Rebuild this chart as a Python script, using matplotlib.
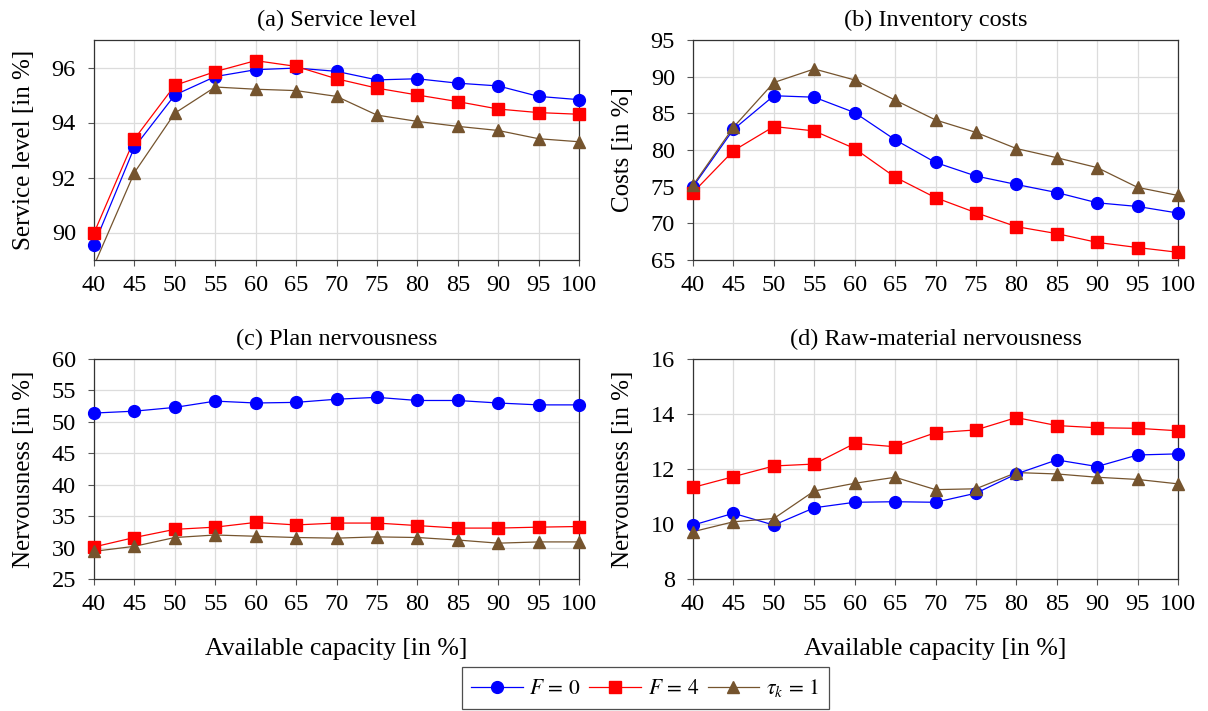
import numpy as np
import matplotlib
matplotlib.use("Agg")
import matplotlib.pyplot as plt

plt.rcParams["font.family"] = ["Liberation Serif", "DejaVu Serif"]
plt.rcParams["mathtext.fontset"] = "stix"
plt.rcParams["font.size"] = 18

# Verfügbare Kapazität (x-Achse)
capacity = [40, 45, 50, 55, 60, 65, 70, 75, 80, 85, 90, 95, 100]

# (a) Servicegrad
service_f0 = [89.55, 93.1, 95.0, 95.67, 95.92, 95.98, 95.86, 95.55, 95.59, 95.43, 95.33, 94.95, 94.83]
service_f4 = [89.98, 93.4, 95.35, 95.85, 96.25, 96.04, 95.59, 95.25, 95.0, 94.76, 94.49, 94.36, 94.3]
service_tau = [88.8, 92.18, 94.34, 95.29, 95.21, 95.16, 94.95, 94.27, 94.04, 93.86, 93.71, 93.41, 93.3]

# (b) Lagerkosten
costs_f0 = [75.0, 82.8, 87.4, 87.2, 85.1, 81.4, 78.3, 76.45, 75.3, 74.2, 72.8, 72.3, 71.4]
costs_f4 = [74.2, 79.9, 83.2, 82.6, 80.2, 76.3, 73.5, 71.45, 69.55, 68.6, 67.4, 66.7, 66.05]
costs_tau = [75.2, 83.1, 89.2, 91.05, 89.55, 86.8, 84.1, 82.4, 80.2, 78.95, 77.6, 74.9, 73.8]

# (c) Plannervosität
plan_f0 = [51.4, 51.7, 52.3, 53.3, 53.0, 53.1, 53.6, 53.9, 53.4, 53.4, 53.0, 52.7, 52.7]
plan_f4 = [30.1, 31.6, 32.9, 33.25, 34.0, 33.6, 33.9, 33.9, 33.5, 33.1, 33.1, 33.25, 33.35]
plan_tau = [29.4, 30.2, 31.6, 32.0, 31.8, 31.6, 31.5, 31.7, 31.6, 31.2, 30.7, 30.9, 30.9]

# (d) Rohstoffnervosität
raw_f0 = [9.96, 10.39, 9.96, 10.59, 10.79, 10.81, 10.79, 11.12, 11.82, 12.33, 12.09, 12.51, 12.55]
raw_f4 = [11.33, 11.72, 12.11, 12.18, 12.93, 12.81, 13.32, 13.42, 13.87, 13.58, 13.5, 13.48, 13.39]
raw_tau = [9.72, 10.08, 10.2, 11.2, 11.48, 11.7, 11.25, 11.28, 11.87, 11.82, 11.7, 11.62, 11.46]

panels = [
    ("(a) Service level", "Service level [in %]", (service_f0, service_f4, service_tau), (89, 97), [90, 92, 94, 96]),
    ("(b) Inventory costs", "Costs [in %]", (costs_f0, costs_f4, costs_tau), (65, 95), list(range(65, 96, 5))),
    ("(c) Plan nervousness", "Nervousness [in %]", (plan_f0, plan_f4, plan_tau), (25, 60), list(range(25, 61, 5))),
    ("(d) Raw-material nervousness", "Nervousness [in %]", (raw_f0, raw_f4, raw_tau), (8, 16), [8, 10, 12, 14, 16]),
]

labels = ["$F\\,=\\,0$", "$F\\,=\\,4$", "$\\tau_k\\,=\\,1$"]
colors = ["#0000ff", "#ff0000", "#75542e"]
markers = ["o", "s", "^"]
msizes = [8.5, 8.3, 8]

W, H = 1208, 711
fig = plt.figure(figsize=(W / 100, H / 100), dpi=100)
boxes = [(94, 40), (693, 40), (94, 359), (693, 359)]

handles = []
for i, (title, ylab, series, ylim, yticks) in enumerate(panels):
    x0, y0 = boxes[i]
    ax = fig.add_axes([x0 / W, 1 - (y0 + 220) / H, 485 / W, 220 / H])
    for s, c, m, ms, lab in zip(series, colors, markers, msizes, labels):
        y = np.array(s, dtype=float)
        # Linie wird an der Achse abgeschnitten, Marker nicht
        ax.plot(capacity, y, color=c, linewidth=0.9, zorder=3)
        ym = np.where((y >= ylim[0]) & (y <= ylim[1]), y, np.nan)
        ax.plot(capacity, ym, color=c, linestyle="none", marker=m, markersize=ms,
                clip_on=False, zorder=4)
        if i == 0:
            h, = ax.plot([], [], color=c, marker=m, markersize=ms, linewidth=0.9)
            handles.append(h)
    ax.set_xlim(40, 100)
    ax.set_ylim(*ylim)
    ax.set_xticks(capacity)
    ax.set_yticks(yticks)
    ax.grid(True, color="#dcdcdc", linewidth=0.9)
    ax.set_axisbelow(True)
    ax.tick_params(direction="out", length=4, color="#555555", labelsize=17.5)
    ax.tick_params(axis="x", pad=7)
    ax.tick_params(axis="y", pad=9)
    for sp in ax.spines.values():
        sp.set_color("#333333")
        sp.set_linewidth(0.9)
    ax.set_title(title, pad=10, fontsize=17.5)
    ax.set_ylabel(ylab, labelpad=12, fontsize=18)
    if i >= 2:
        ax.set_xlabel("Available capacity [in %]", labelpad=16, fontsize=18.5)

leg = fig.legend(handles=handles, labels=labels, loc="lower center", ncol=3,
                 bbox_to_anchor=(0.534, -0.012), frameon=True, fancybox=False,
                 edgecolor="#222222", handlelength=2.4, columnspacing=0.4,
                 handletextpad=0.3, borderpad=0.45, fontsize=15.5)
leg.get_frame().set_linewidth(0.9)

fig.savefig("out.png", dpi=100)
